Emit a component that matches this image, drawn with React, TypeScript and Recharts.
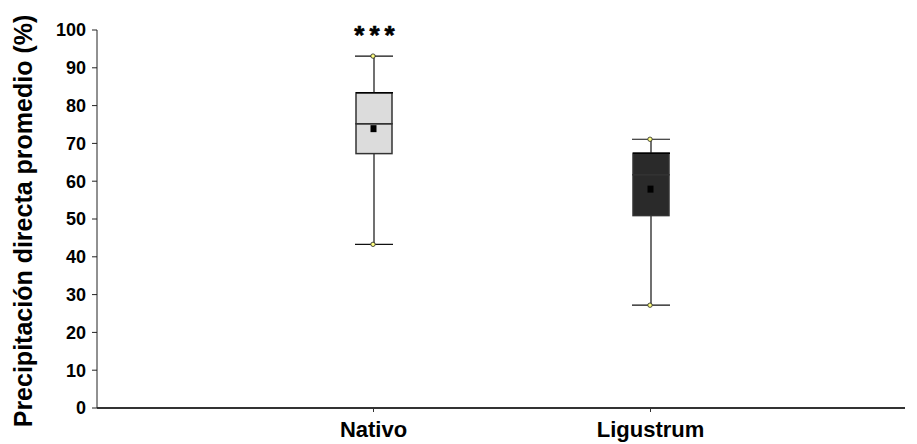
import { ComposedChart, Bar, Scatter, XAxis, YAxis, LabelList } from 'recharts';

const groups = ['Nativo', 'Ligustrum'];
const minVals = [43.3, 27.2];
const q1Vals = [67.3, 50.9];
const medianVals = [75.2, 61.7];
const q3Vals = [83.4, 67.4];
const maxVals = [93.1, 71.1];
const meanVals = [73.9, 57.9];
const significance = ['***', ''];
const boxFills = ['#dcdcdc', '#2a2a2a'];
const yTicks = [0, 10, 20, 30, 40, 50, 60, 70, 80, 90, 100];

// stacked segments: invisible base up to the minimum, then whisker / box pieces
const data = groups.map((g, i) => ({
  group: g,
  base: minVals[i],
  lowWhisker: q1Vals[i] - minVals[i],
  lowBox: medianVals[i] - q1Vals[i],
  highBox: q3Vals[i] - medianVals[i],
  highWhisker: maxVals[i] - q3Vals[i],
  mean: meanVals[i],
  sig: significance[i],
  fill: boxFills[i],
}));

const FONT = '"Liberation Sans", Arial, sans-serif';
const CAP = 19;

const Whisker = (props: any, lower: boolean) => {
  const { x, y, width, height } = props;
  const cx = x + width / 2;
  const capY = lower ? y + height : y;
  return (
    <g>
      <line x1={cx} x2={cx} y1={y} y2={y + height} stroke="#111" strokeWidth={1.2} />
      <line x1={cx - CAP} x2={cx + CAP} y1={capY} y2={capY} stroke="#111" strokeWidth={1.2} />
      <circle cx={cx - 1} cy={capY} r={2.2} fill="#ffff80" stroke="#222" strokeWidth={0.8} />
    </g>
  );
};

const BoxPart = (props: any, withMedian: boolean) => {
  const { x, y, width, height, payload } = props;
  return (
    <g>
      <rect x={x} y={y} width={width} height={height} fill={payload.fill} stroke="#333" strokeWidth={1.5} />
      {withMedian && <line x1={x} x2={x + width + 1} y1={y} y2={y} stroke="#000" strokeWidth={1.6} />}
    </g>
  );
};

const MeanMark = (props: any) => {
  const { cx, cy } = props;
  return <rect x={cx - 3} y={cy - 3.5} width={6} height={7} fill="#000" />;
};

const YLabel = (props: any) => {
  const vb = props.viewBox || { x: 0, y: 30, width: 97, height: 378 };
  const cy = vb.y + vb.height / 2 + 2;
  const x = 32;
  return (
    <text
      x={x}
      y={cy}
      transform={`rotate(-90 ${x} ${cy})`}
      textAnchor="middle"
      fontFamily={FONT}
      fontWeight="bold"
      fontSize={25}
      fill="#000"
    >
      Precipitación directa promedio (%)
    </text>
  );
};

export default function App() {
  return (
    <div style={{ position: 'absolute', left: 0, top: 0, background: '#fff' }}>
      <ComposedChart width={917} height={444} data={data} margin={{ top: 30, right: 12, bottom: 0, left: 0 }}>
        <XAxis
          dataKey="group"
          height={36}
          padding={{ left: 138, right: 116 }}
          axisLine={{ stroke: '#333', strokeWidth: 2 }}
          tickLine={{ stroke: '#333' }}
          tickSize={4}
          tickMargin={9}
          tick={{ fontFamily: FONT, fontWeight: 'bold', fontSize: 22, fill: '#000' }}
        />
        <YAxis
          width={97}
          domain={[0, 100]}
          ticks={yTicks}
          interval={0}
          axisLine={{ stroke: '#222' }}
          tickLine={{ stroke: '#222' }}
          tickSize={5}
          tickMargin={6}
          tick={{ fontFamily: FONT, fontWeight: 'bold', fontSize: 18, fill: '#000' }}
          label={{ content: YLabel }}
        />
        <Bar dataKey="base" stackId="box" barSize={36} isAnimationActive={false} shape={() => <g />} />
        <Bar dataKey="lowWhisker" stackId="box" barSize={36} isAnimationActive={false} shape={(p: any) => Whisker(p, true)} />
        <Bar dataKey="lowBox" stackId="box" barSize={36} isAnimationActive={false} shape={(p: any) => BoxPart(p, false)} />
        <Bar dataKey="highBox" stackId="box" barSize={36} isAnimationActive={false} shape={(p: any) => BoxPart(p, true)} />
        <Bar dataKey="highWhisker" stackId="box" barSize={36} isAnimationActive={false} shape={(p: any) => Whisker(p, false)}>
          <LabelList
            dataKey="sig"
            position="top"
            offset={12}
            dx={3}
            fontFamily={FONT}
            fontWeight="bold"
            fontSize={26}
            letterSpacing={5}
            fill="#000"
            stroke="#000"
            strokeWidth={0.6}
          />
        </Bar>
        <Scatter dataKey="mean" isAnimationActive={false} shape={MeanMark} />
      </ComposedChart>
    </div>
  );
}
